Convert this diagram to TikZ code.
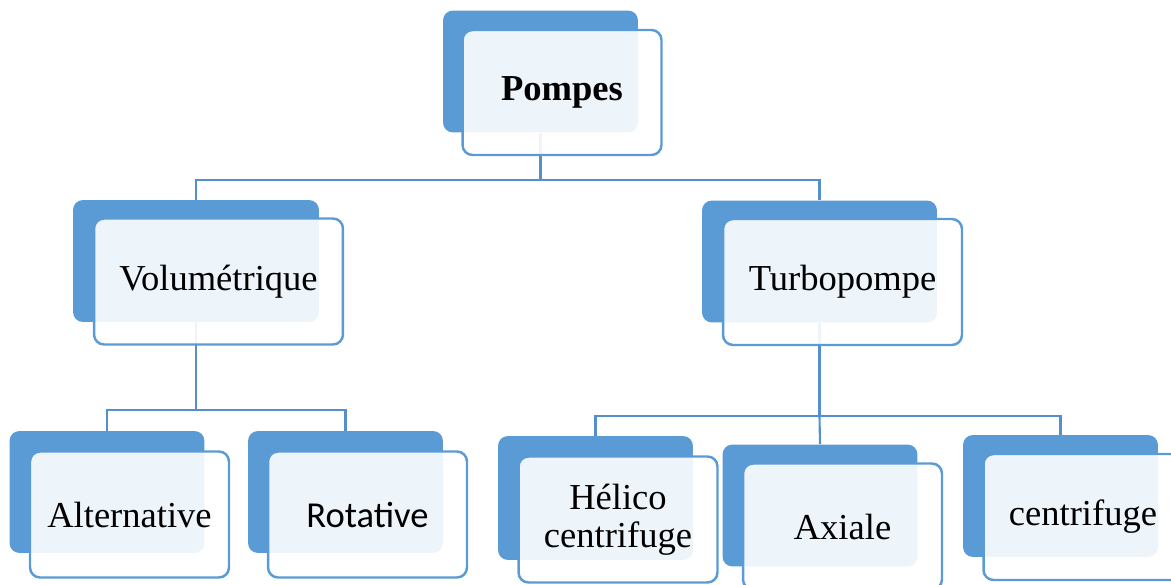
\documentclass[tikz,border=0pt]{standalone}
\usepackage{fontspec}
\setmainfont{Liberation Serif}
\newfontfamily\sansrot{Carlito}
\usepackage{tikz}
\usetikzlibrary{positioning}
\definecolor{bleu}{RGB}{91,155,213}
\definecolor{bleu-trait}{RGB}{86,143,205}

\tikzset{
  fond/.style={fill=bleu, rounded corners=0.2cm, minimum width=3.9cm, minimum height=2.44cm, inner sep=0pt},
  cadre/.style={draw=bleu, line width=1.4pt, fill=white, fill opacity=0.9, text opacity=1,
    rounded corners=0.2cm, minimum width=3.98cm, minimum height=2.52cm, inner sep=0pt,
    align=center, font=\fontsize{20.8}{21.5}\selectfont},
  lien/.style={draw=bleu-trait, line width=1.2pt}
}

\begin{document}
\begin{tikzpicture}[x=0.02cm, y=-0.02cm]
\useasboundingbox (0,0) rectangle (1171,585);

% fonds bleus
\node[fond] (pompesF) at (540.5,71.5) {};
\node[fond, minimum width=4.92cm] (volF) at (196,261) {};
\node[fond, minimum width=4.7cm] (turboF) at (819.5,261.5) {};
\node[fond] (altF) at (107,492) {};
\node[fond] (rotF) at (345.5,492) {};
\node[fond, minimum height=2.48cm] (helF) at (595.5,498) {};
\node[fond] (axiF) at (820,505.5) {};
\node[fond] (cenF) at (1060.5,496) {};

% liaisons
\coordinate (j1) at (540.5,180);
\coordinate (j2) at (196,410);
\coordinate (j3) at (819.5,416);
\draw[lien] (pompesF.south) -- (j1) -| (volF.north);
\draw[lien] (j1) -| (turboF.north);
\draw[lien] (volF.south) -- (j2) -| (altF.north);
\draw[lien] (j2) -| (rotF.north);
\draw[lien] (turboF.south) -- (j3) -| (helF.north);
\draw[lien] (j3) -- (axiF.north);
\draw[lien] (j3) -| (cenF.north);

% cadres
\node[cadre, minimum height=2.5cm] (pompes) at (562,92.5) {\textbf{Pompes}};
\node[cadre, minimum width=4.98cm] (vol) at (218.5,281.5) {Volumétrique};
\node[cadre, minimum width=4.78cm] (turbo) at (842.5,282) {Turbopompe};
\node[cadre] (alt) at (129.5,514.5) {Alternative};
\node[cadre] (rot) at (367.5,514.5) {\sansrot Rotative};
\node[cadre] (hel) at (618,519.5) {Hélico\\centrifuge};
\node[cadre] (axi) at (842.5,526.5) {Axiale};
\node[cadre] (cen) at (1083,517) {centrifuge};

\end{tikzpicture}
\end{document}
